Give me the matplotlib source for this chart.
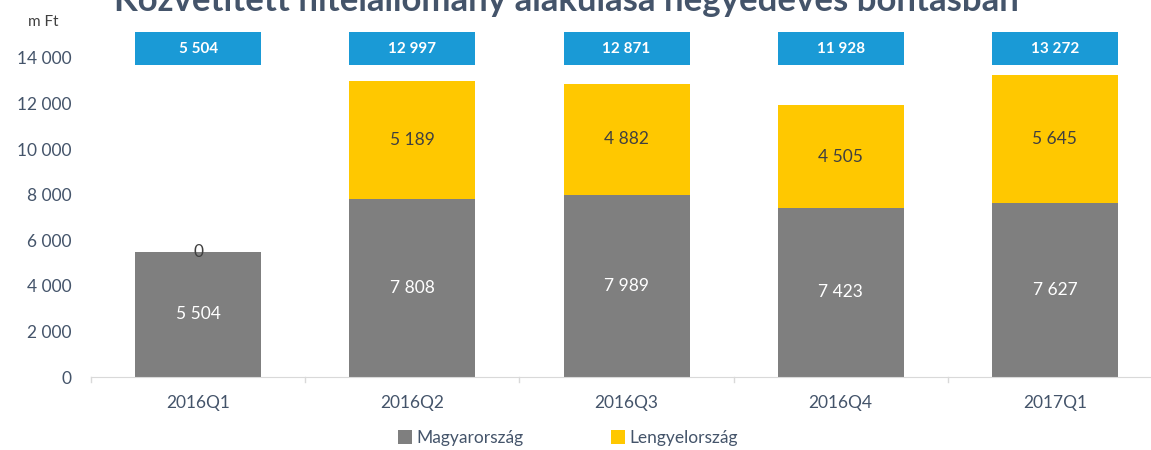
import matplotlib
matplotlib.use("Agg")
import matplotlib.pyplot as plt
from matplotlib.patches import Rectangle
import numpy as np

categories = ["2016Q1", "2016Q2", "2016Q3", "2016Q4", "2017Q1"]
hu_values = [5504, 7808, 7989, 7423, 7627]
pl_values = [0, 5189, 4882, 4505, 5645]
totals = [5504, 12997, 12871, 11928, 13272]
yticks = [0, 2000, 4000, 6000, 8000, 10000, 12000, 14000]
title = "Közvetített hitelállomány alakulása negyedéves bontásban"

def fmt(v):
    return f"{v:,}".replace(",", " ")

plt.rcParams['font.family'] = ['Lato', 'DejaVu Sans']
W, H = 1151, 450
fig = plt.figure(figsize=(W / 100, H / 100), dpi=100)
step = 214.2
x0, x1 = 91, 91 + 5 * step
y0, y14 = 377, 58
ymax = 14000 * y0 / (y0 - y14)
ax = fig.add_axes([x0 / W, (H - y0) / H, (x1 - x0) / W, y0 / H])
ax.set_xlim(-0.5, 4.5)
ax.set_ylim(0, ymax)

gray = "#7f7f7f"
yellow = "#ffc800"
blue = "#1a9ad6"
txt = "#44546a"
x = np.arange(len(categories))
bw = 126 / step
ax.bar(x, hu_values, bw, color=gray, label="Magyarország", zorder=2)
ax.bar(x, pl_values, bw, bottom=hu_values, color=yellow, label="Lengyelország", zorder=2)

def px2val(ypx):
    return (y0 - ypx) * 14000 / (y0 - y14)

box_top, box_bot = px2val(32), px2val(65.5)
for i in range(len(categories)):
    ax.text(x[i], hu_values[i] / 2, fmt(hu_values[i]), ha="center", va="center",
            color="white", fontsize=12.5)
    if pl_values[i] > 0:
        ax.text(x[i], hu_values[i] + pl_values[i] / 2, fmt(pl_values[i]), ha="center",
                va="center", color="#404040", fontsize=12.5)
    else:
        ax.text(x[i], hu_values[i], fmt(pl_values[i]), ha="center", va="center",
                color="#404040", fontsize=12.5)
    ax.add_patch(Rectangle((x[i] - bw / 2, box_bot), bw, box_top - box_bot,
                           facecolor=blue, edgecolor="none", clip_on=False, zorder=3))
    ax.text(x[i], (box_top + box_bot) / 2, fmt(totals[i]), ha="center", va="center",
            color="white", fontsize=11, fontweight="bold", zorder=4)

ax.set_yticks(yticks)
ax.set_yticklabels([fmt(v) for v in yticks])
ax.set_xticks(x)
ax.set_xticklabels(categories)
ax.tick_params(axis="y", length=0, colors=txt, labelsize=12.5, pad=14)
ax.tick_params(axis="x", length=0, colors=txt, labelsize=12.5, pad=13)
for s in ["top", "right", "left"]:
    ax.spines[s].set_visible(False)
ax.spines["bottom"].set_color("#d9d9d9")
ax.spines["bottom"].set_zorder(3)
for b in np.arange(-0.5, 5, 1):
    ax.plot([b, b], [0, -200], color="#d9d9d9", lw=1, clip_on=False)

fig.text(28 / W, 1 - 22 / H, "m Ft", ha="left", va="center", color="#404040", fontsize=11)
fig.text(566 / W, 1 - 1 / H, title, ha="center", va="center", color=txt,
         fontsize=25, fontweight="bold")

fig.legend(loc="center", bbox_to_anchor=(568 / W, 1 - 438 / H), ncol=2, frameon=False,
           fontsize=12.5, labelcolor=txt, handlelength=0.8, handleheight=0.8,
           handletextpad=0.3, columnspacing=5)

fig.savefig("out.png", dpi=100)
